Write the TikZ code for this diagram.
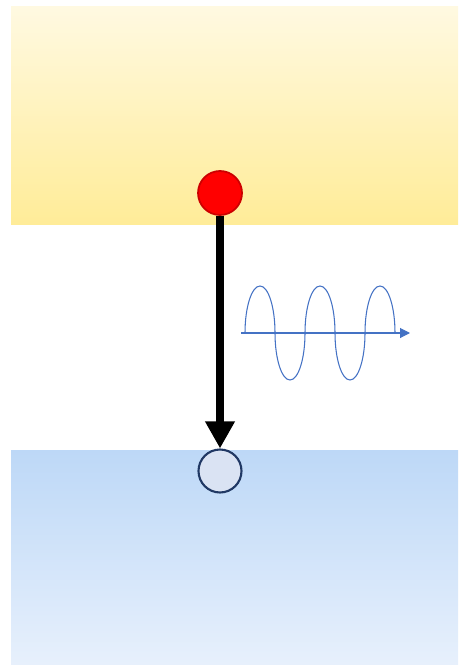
\documentclass[tikz,border=0pt]{standalone}
\usetikzlibrary{arrows.meta}

\definecolor{sunTop}{HTML}{FFF9E1}
\definecolor{sunBottom}{HTML}{FFEC98}
\definecolor{seaTop}{HTML}{BDD8F7}
\definecolor{seaBottom}{HTML}{E7F0FC}
\definecolor{waveBlue}{HTML}{4472C4}
\definecolor{ballFill}{HTML}{DAE3F3}
\definecolor{ballLine}{HTML}{203864}

\begin{document}
\begin{tikzpicture}[x=0.02cm, y=-0.02cm]

    \useasboundingbox (0,0) rectangle (458,665);

    % upper band
    \shade[top color=sunTop, bottom color=sunBottom] (11,7) rectangle (458,225);

    % lower band
    \shade[top color=seaTop, bottom color=seaBottom] (11,450) rectangle (458,664);

    % red ball
    \node[circle, draw=red!80!black, fill=red, line width=1pt, minimum size=0.88cm, inner sep=0pt] (hot) at (220,193) {};

    % blue ball
    \node[circle, draw=ballLine, fill=ballFill, line width=1.2pt, minimum size=0.86cm, inner sep=0pt] (cold) at (220,471) {};

    % transition
    \draw[-{Triangle[width=0.56cm, length=0.54cm]}, line width=0.16cm] (hot.south) -- (cold.north);

    % wave
    \draw[-{Triangle[width=0.2cm, length=0.2cm]}, waveBlue, line width=0.6pt] (241,333) -- (410,333);
    \draw[waveBlue, line width=0.6pt] (245,333)
        arc[start angle=180, end angle=360, x radius=15, y radius=47]
        arc[start angle=180, end angle=0, x radius=15, y radius=47]
        arc[start angle=180, end angle=360, x radius=15, y radius=47]
        arc[start angle=180, end angle=0, x radius=15, y radius=47]
        arc[start angle=180, end angle=360, x radius=15, y radius=47];

\end{tikzpicture}
\end{document}
